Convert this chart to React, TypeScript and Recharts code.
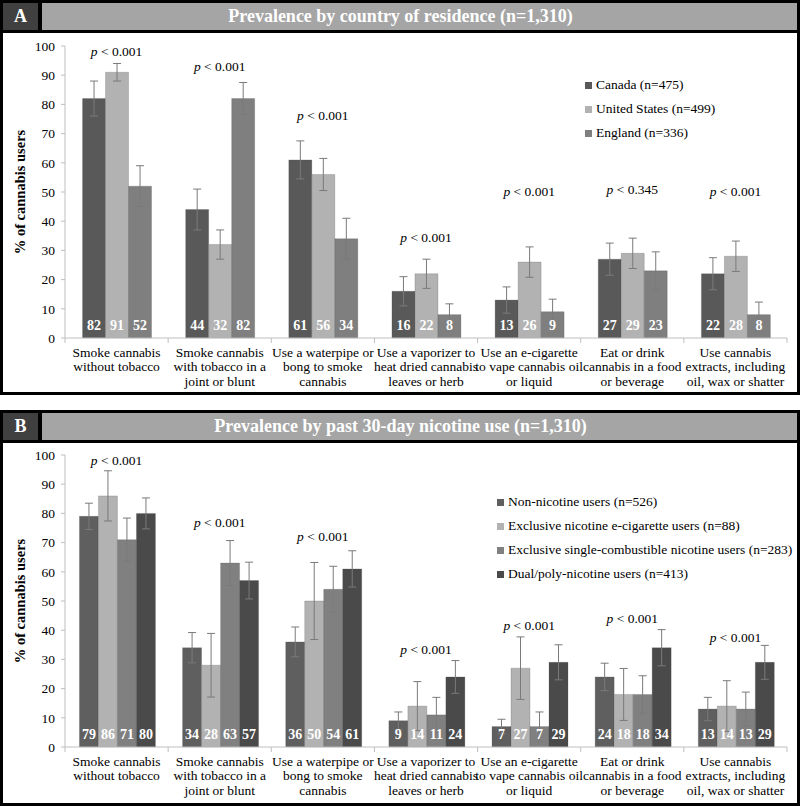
import React from "react";
import { BarChart, Bar, XAxis, YAxis, ErrorBar, LabelList, ReferenceDot } from "recharts";

// ── shared categories / axis ─────────────────────────────────────────────
const categories = [
  "Smoke cannabis without tobacco",
  "Smoke cannabis with tobacco in a joint or blunt",
  "Use a waterpipe or bong to smoke cannabis",
  "Use a vaporizer to heat dried cannabis leaves or herb",
  "Use an e-cigarette to vape cannabis oil or liquid",
  "Eat or drink cannabis in a food or beverage",
  "Use cannabis extracts, including oil, wax or shatter",
];
const categoryLines = [
  ["Smoke cannabis", "without tobacco"],
  ["Smoke cannabis", "with tobacco in a", "joint or blunt"],
  ["Use a waterpipe or", "bong to smoke", "cannabis"],
  ["Use a vaporizer to", "heat dried cannabis", "leaves or herb"],
  ["Use an e-cigarette", "to vape cannabis oil", "or liquid"],
  ["Eat or drink", "cannabis in a food", "or beverage"],
  ["Use cannabis", "extracts, including", "oil, wax or shatter"],
];
const yTicks = [0, 10, 20, 30, 40, 50, 60, 70, 80, 90, 100];

// ── panel A: country of residence ────────────────────────────────────────
const canada = [82, 44, 61, 16, 13, 27, 22];
const canadaErr = [6, 7, 6.5, 5, 4.5, 5.5, 5.5];
const unitedStates = [91, 32, 56, 22, 26, 29, 28];
const unitedStatesErr = [3, 5, 5.5, 5, 5.2, 5.2, 5.2];
const england = [52, 82, 34, 8, 9, 23, 8];
const englandErr = [7, 5.5, 7, 3.7, 4.3, 6.5, 4.3];
const pTextA = ["< 0.001", "< 0.001", "< 0.001", "< 0.001", "< 0.001", "< 0.345", "< 0.001"];
const pPosA = [97.7, 92.4, 75.8, 33.9, 49.7, 50.5, 49.7];

// ── panel B: past 30-day nicotine use ────────────────────────────────────
const nonNicotine = [79, 34, 36, 9, 7, 24, 13];
const nonNicotineErr = [4.5, 5.2, 5.1, 3, 2.5, 4.7, 4];
const eCigOnly = [86, 28, 50, 14, 27, 18, 14];
const eCigOnlyErr = [8.6, 10.9, 13.2, 8.4, 10.7, 8.9, 8.7];
const combustibleOnly = [71, 63, 54, 11, 7, 18, 13];
const combustibleOnlyErr = [7.4, 7.7, 7.9, 6, 5, 6.4, 5.8];
const dualPoly = [80, 57, 61, 24, 29, 34, 29];
const dualPolyErr = [5.3, 6.3, 6.2, 5.6, 6, 6.2, 5.8];
const pTextB = ["< 0.001", "< 0.001", "< 0.001", "< 0.001", "< 0.001", "< 0.001", "< 0.001"];
const pPosB = [97.7, 76.5, 71.5, 32.9, 41.2, 43.5, 37.1];

interface Series {
  key: string;
  name: string;
  color: string;
  values: number[];
  errors: number[];
}

const seriesA: Series[] = [
  { key: "canada", name: "Canada (n=475)", color: "#595959", values: canada, errors: canadaErr },
  { key: "us", name: "United States (n=499)", color: "#b2b2b2", values: unitedStates, errors: unitedStatesErr },
  { key: "england", name: "England (n=336)", color: "#7f7f7f", values: england, errors: englandErr },
];

const seriesB: Series[] = [
  { key: "non", name: "Non-nicotine users (n=526)", color: "#5f5f5f", values: nonNicotine, errors: nonNicotineErr },
  { key: "ecig", name: "Exclusive nicotine e-cigarette users (n=88)", color: "#b2b2b2", values: eCigOnly, errors: eCigOnlyErr },
  { key: "comb", name: "Exclusive single-combustible nicotine users (n=283)", color: "#808080", values: combustibleOnly, errors: combustibleOnlyErr },
  { key: "dual", name: "Dual/poly-nicotine users (n=413)", color: "#4a4a4a", values: dualPoly, errors: dualPolyErr },
];

const FONT = "'Liberation Serif', 'Times New Roman', serif";
const AXIS_GRAY = "#bfbfbf";
const CHART_W = 800;
const Y_AXIS_W = 65;
const RIGHT_M = 13;
const STEP = (CHART_W - Y_AXIS_W - RIGHT_M) / categories.length;

function CategoryTick({ x, y, payload }: any) {
  const lines = categoryLines[payload.index] || [];
  const left = x - STEP / 2;
  return (
    <g>
      <line x1={left} y1={y} x2={left} y2={y + 5} stroke={AXIS_GRAY} />
      {payload.index === categories.length - 1 && (
        <line x1={x + STEP / 2} y1={y} x2={x + STEP / 2} y2={y + 5} stroke={AXIS_GRAY} />
      )}
      {lines.map((l: string, i: number) => (
        <text key={i} x={x} y={y + 16 + i * 14.4} textAnchor="middle" dominantBaseline="middle"
          fontSize={13.5} fill="#000" fontFamily={FONT}>
          {l}
        </text>
      ))}
    </g>
  );
}

function ValueLabel({ x, y, width, height, value }: any) {
  return (
    <text x={x + width / 2} y={y + height - 11} textAnchor="middle" dominantBaseline="middle"
      fontSize={14} fontWeight="bold" fill="#fff" fontFamily={FONT}>
      {value}
    </text>
  );
}

function PLabel({ cx, cy, text }: any) {
  return (
    <text x={cx} y={cy} textAnchor="middle" dominantBaseline="middle" fontSize={13.5} fill="#000" fontFamily={FONT}>
      <tspan fontStyle="italic">p</tspan>
      <tspan> {text}</tspan>
    </text>
  );
}

function YLabel({ viewBox }: any) {
  const cx = 22;
  const cy = viewBox.y + viewBox.height / 2;
  return (
    <text x={cx} y={cy} transform={`rotate(-90 ${cx} ${cy})`} textAnchor="middle" dominantBaseline="middle"
      fontSize={14.5} fontWeight="bold" fill="#000" fontFamily={FONT}>
      % of cannabis users
    </text>
  );
}

function LegendList({ series, left, top }: { series: Series[]; left: number; top: number }) {
  return (
    <div style={{ position: "absolute", left, top, fontFamily: FONT, fontSize: 13.5, color: "#000" }}>
      {series.map((s) => (
        <div key={s.key} style={{ height: 24, display: "flex", alignItems: "center", whiteSpace: "nowrap" }}>
          <span style={{ width: 7, height: 7, background: s.color, marginRight: 4, display: "inline-block" }} />
          {s.name}
        </div>
      ))}
    </div>
  );
}

function PanelChart({ series, pText, pPos, height, gap }: {
  series: Series[]; pText: string[]; pPos: number[]; height: number; gap: string;
}) {
  const rows = categories.map((c, i) => {
    const r: any = { cat: c };
    series.forEach((s) => {
      r[s.key] = s.values[i];
      r[s.key + "Err"] = s.errors[i];
    });
    return r;
  });
  const xAxisH = height - 13 - 292;

  return (
    <BarChart width={CHART_W} height={height} data={rows} barCategoryGap={gap} barGap={0}
      margin={{ top: 13, right: RIGHT_M, left: 0, bottom: 0 }}>
      <XAxis dataKey="cat" interval={0} height={xAxisH} tickSize={0} tickMargin={0}
        tick={<CategoryTick />} stroke={AXIS_GRAY} />
      <YAxis domain={[0, 100]} ticks={yTicks} width={Y_AXIS_W} tickSize={4} tickMargin={6}
        stroke={AXIS_GRAY} tick={{ fill: "#000", fontSize: 13.5, fontFamily: FONT }}
        label={<YLabel />} />
      {series.map((s) => (
        <Bar key={s.key} dataKey={s.key} name={s.name} fill={s.color} stroke="#444" strokeOpacity={0.35}
          strokeWidth={0.6} isAnimationActive={false}>
          <ErrorBar dataKey={s.key + "Err"} width={4} stroke="#7a7a7a" strokeWidth={1} direction="y" />
          <LabelList dataKey={s.key} content={<ValueLabel />} />
        </Bar>
      ))}
      {categories.map((c, i) => (
        <ReferenceDot key={c} x={c} y={pPos[i]} r={0}
          shape={(props: any) => <PLabel cx={props.cx} cy={props.cy} text={pText[i]} />} />
      ))}
    </BarChart>
  );
}

function PanelHeader({ letter, title }: { letter: string; title: string }) {
  return (
    <div style={{ display: "flex", height: 27, borderBottom: "3px solid #000" }}>
      <div style={{ width: 35, background: "#404040", color: "#fff", fontWeight: "bold", fontSize: 18,
        display: "flex", alignItems: "center", justifyContent: "center", fontFamily: FONT }}>
        {letter}
      </div>
      <div style={{ width: 4, background: "#000" }} />
      <div style={{ flex: 1, background: "#a5a5a5", color: "#fff", fontWeight: "bold", fontSize: 18,
        display: "flex", alignItems: "center", justifyContent: "center", fontFamily: FONT, paddingRight: 38 }}>
        {title}
      </div>
    </div>
  );
}

export default function App() {
  return (
    <div style={{ position: "absolute", left: 0, top: 0, width: 800, height: 806, background: "#fff", fontFamily: FONT }}>
      <div style={{ position: "absolute", left: 0, top: 0, width: 800, height: 395, border: "3px solid #000", boxSizing: "border-box" }}>
        <PanelHeader letter="A" title="Prevalence by country of residence (n=1,310)" />
      </div>
      <div style={{ position: "absolute", left: 0, top: 33 }}>
        <PanelChart series={seriesA} pText={pTextA} pPos={pPosA} height={359} gap="17%" />
      </div>
      <LegendList series={seriesA} left={585} top={73} />

      <div style={{ position: "absolute", left: 0, top: 410, width: 800, height: 396, border: "3px solid #000", boxSizing: "border-box" }}>
        <PanelHeader letter="B" title="Prevalence by past 30-day nicotine use (n=1,310)" />
      </div>
      <div style={{ position: "absolute", left: 0, top: 442 }}>
        <PanelChart series={seriesB} pText={pTextB} pPos={pPosB} height={360} gap="14%" />
      </div>
      <LegendList series={seriesB} left={497} top={490} />
    </div>
  );
}
